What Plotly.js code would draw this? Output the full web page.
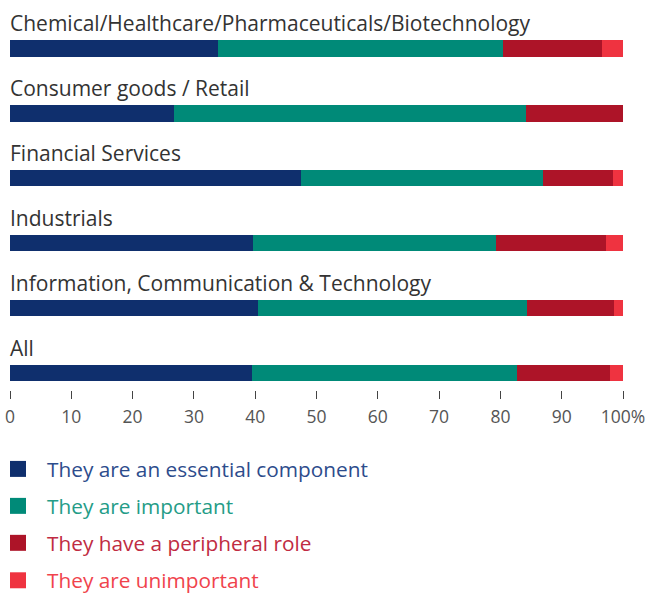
<!DOCTYPE html>
<html>
<head>
<meta charset="utf-8">
<script src="https://cdn.plot.ly/plotly-3.0.1.min.js"></script>
<style>html,body{margin:0;padding:0;background:#fff;}#chart{width:645px;height:594px;}</style>
</head>
<body>
<div id="chart"></div>
<script>
// ---- data ----
const categories = [
  "Chemical/Healthcare/Pharmaceuticals/Biotechnology",
  "Consumer goods / Retail",
  "Financial Services",
  "Industrials",
  "Information, Communication & Technology",
  "All"
];
const seriesNames = [
  "They are an essential component",
  "They are important",
  "They have a peripheral role",
  "They are unimportant"
];
const essential   = [33.9, 26.8, 47.5, 39.6, 40.4, 39.5];
const important   = [46.6, 57.4, 39.4, 39.7, 43.9, 43.2];
const peripheral  = [16.0, 15.8, 11.4, 17.9, 14.2, 15.2];
const unimportant = [3.5, 0.0, 1.7, 2.8, 1.5, 2.1];
const tickValues = [0, 10, 20, 30, 40, 50, 60, 70, 80, 90, 100];
const tickLabels = ["0", "10", "20", "30", "40", "50", "60", "70", "80", "90", "100%"];

// ---- styles ----
const barColors  = ["#0f2f6d", "#008a78", "#ad1428", "#ef3340"];
const textColors = ["#2d4c8c", "#249c87", "#c02b42", "#f0434c"];
const FONT = "Open Sans, Liberation Sans, sans-serif";
const seriesValues = [essential, important, peripheral, unimportant];

const W = 645, H = 594;
const margin = {l: 10, r: 22, t: 28.6, b: H - 390};
const plotH = H - margin.t - margin.b;
const plotW = W - margin.l - margin.r;
const pxX = px => (px - margin.l) / plotW;
const pxY = py => (H - margin.b - py) / plotH;

const traces = seriesValues.map((vals, i) => ({
  type: "bar",
  orientation: "h",
  x: vals,
  y: categories,
  name: seriesNames[i],
  marker: {color: barColors[i], line: {width: 0}},
  width: 0.25,
  showlegend: false,
  hoverinfo: "skip"
}));

const annotations = categories.map(c => ({
  x: 0, xref: "x", y: c, yref: "y",
  xanchor: "left", yanchor: "bottom", yshift: 9, xshift: -2,
  text: c, showarrow: false,
  font: {family: FONT, size: 21, color: "#333333"}
}));

const legendY = [469, 506, 543, 580.5];
const shapes = [];
seriesNames.forEach((n, i) => {
  shapes.push({
    type: "rect", xref: "paper", yref: "paper",
    x0: pxX(10), x1: pxX(26), y0: pxY(legendY[i] + 8), y1: pxY(legendY[i] - 8),
    fillcolor: barColors[i], line: {width: 0}
  });
  annotations.push({
    xref: "paper", yref: "paper", x: pxX(45), y: pxY(legendY[i]),
    xanchor: "left", yanchor: "middle", showarrow: false,
    text: n, font: {family: FONT, size: 20.8, color: textColors[i]}
  });
});

const layout = {
  width: W, height: H,
  margin: margin,
  paper_bgcolor: "#fff", plot_bgcolor: "#fff",
  barmode: "stack",
  bargap: 0,
  showlegend: false,
  xaxis: {
    range: [0, 100], showgrid: false, zeroline: false, showline: false,
    tickmode: "array", tickvals: tickValues, ticktext: tickLabels,
    ticks: "outside", ticklen: 8, tickwidth: 1, tickcolor: "#444",
    ticklabeloverflow: "allow", automargin: false, ticklabelstandoff: 3,
    tickfont: {family: FONT, size: 17.5, color: "#555"}, fixedrange: true
  },
  yaxis: {
    type: "category", categoryorder: "array", categoryarray: categories,
    range: [5.26, -0.3], showticklabels: false, showgrid: false,
    zeroline: false, showline: false, ticks: "", fixedrange: true
  },
  annotations: annotations,
  shapes: shapes,
  font: {family: FONT}
};

Plotly.newPlot("chart", traces, layout, {staticPlot: true, displayModeBar: false});
</script>
</body>
</html>
